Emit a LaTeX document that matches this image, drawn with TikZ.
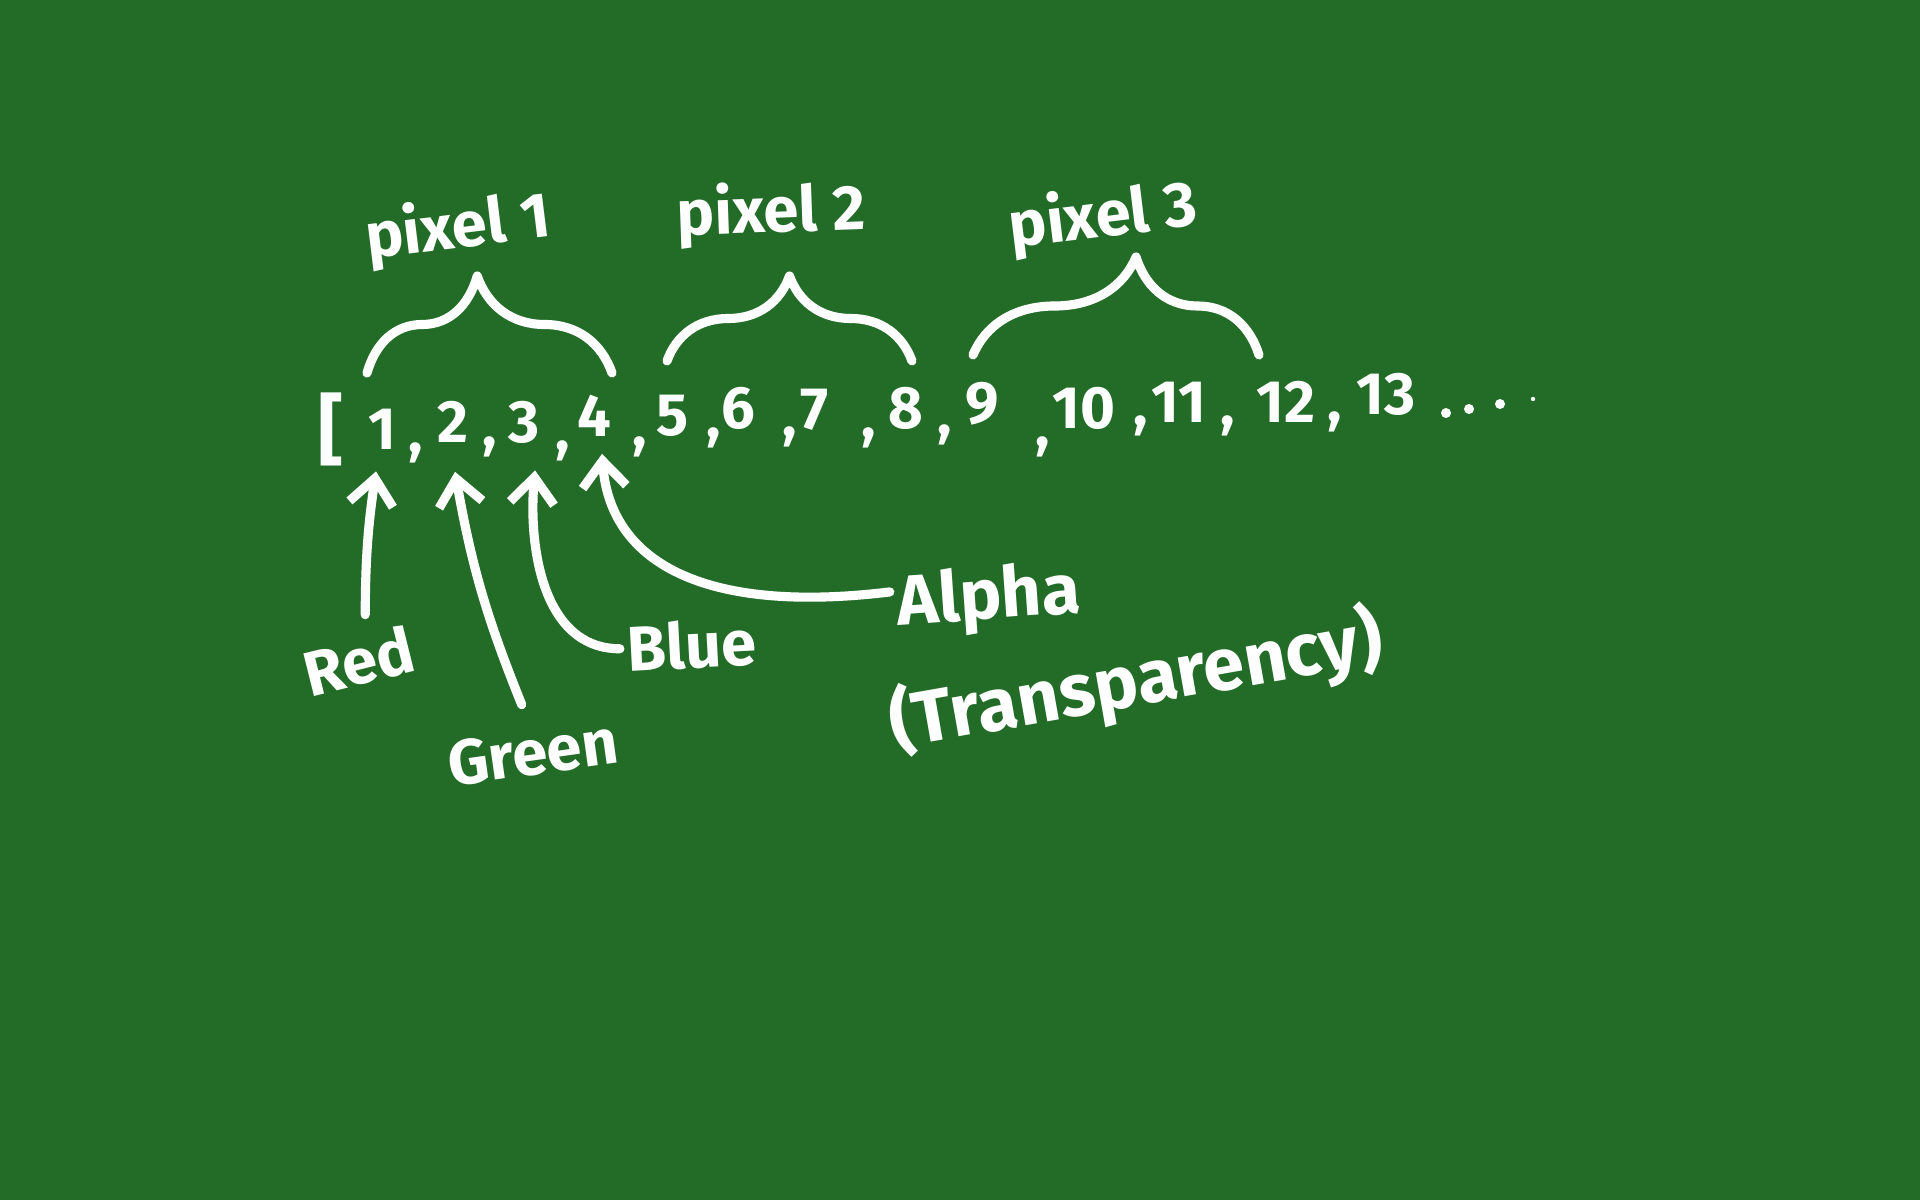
\documentclass[tikz,border=0pt]{standalone}
\usepackage{fontspec}
\setmainfont{Fira Sans}
\usetikzlibrary{arrows.meta,decorations.pathreplacing,calc}
\definecolor{board}{HTML}{226C28}
\definecolor{chalkwhite}{HTML}{FFFFFF}

\begin{document}
\begin{tikzpicture}[
    chalkline/.style={draw=chalkwhite, line width=2.6pt, line cap=round, line join=round},
    numtext/.style={text=chalkwhite, font=\fontsize{17}{20}\selectfont\bfseries, inner sep=1pt},
    tag/.style={text=chalkwhite, font=\fontsize{18}{22}\selectfont\bfseries, inner sep=2pt},
    bigtag/.style={tag, font=\fontsize{20}{24}\selectfont\bfseries},
    arrow/.style={chalkline, -{Straight Barb[length=2.6mm, width=4.4mm]}},
    curly/.style 2 args={chalkline, decorate, decoration={brace, amplitude=#1, aspect=#2}}
  ]
    \fill[board] (0,0) rectangle (19.2,12);
    % the flat list of values
    \node[numtext, font=\fontsize{22}{24}\selectfont\bfseries] (open) at (3.31,7.71) {[};
    \foreach \i/\x/\y in {1/3.82/7.71, 2/4.53/7.78, 3/5.24/7.78, 4/5.94/7.84, 5/6.73/7.84,
        6/7.38/7.92, 7/8.14/7.90, 8/9.06/7.92, 9/9.82/7.96, 10/10.84/7.92, 11/11.79/7.98,
        12/12.86/7.98, 13/13.86/8.06}
      \node[numtext] (n\i) at (\x,\y) {\i};
    \foreach \i/\x/\y in {1/4.16/7.47, 2/4.90/7.53, 3/5.63/7.49, 4/6.40/7.53, 5/7.14/7.62,
        6/7.90/7.63, 7/8.69/7.62, 8/9.45/7.65, 9/10.43/7.53, 10/11.41/7.74, 11/12.28/7.74,
        12/13.35/7.78}
      \node[numtext] (c\i) at (\x,\y) {,};
    \foreach \x/\y/\r in {14.46/7.87/0.05, 14.69/7.91/0.05, 15.00/7.96/0.05, 15.33/8.01/0.022}
      \fill[chalkwhite] (\x,\y) circle (\r);
    % braces and pixel labels
    \draw[curly={9.7mm}{0.45}] (3.67,8.27) -- (6.12,8.27);
    \draw[curly={8.5mm}{0.5}] (6.67,8.39) -- (9.12,8.39);
    \draw[curly={9.8mm}{0.57}] (9.73,8.45) -- (12.59,8.45);
    \node[tag, rotate=7] (pix1) at (4.58,9.71) {pixel 1};
    \node[tag, rotate=2] (pix2) at (7.71,9.86) {pixel 2};
    \node[tag, rotate=7] (pix3) at (11.03,9.82) {pixel 3};
    % channel labels
    \node[tag, rotate=14] (red) at (3.59,5.39) {Red};
    \node[tag, rotate=8] (green) at (5.33,4.47) {Green};
    \node[tag, rotate=3] (blue) at (6.92,5.55) {Blue};
    \node[bigtag, rotate=4] (alpha) at (9.89,6.00) {Alpha};
    \node[bigtag, font=\fontsize{21}{24}\selectfont\bfseries, rotate=10] (transp) at (11.36,5.18) {(Transparency)};
    \draw[arrow] ($(red.north)+(0.14,0.15)$) to[bend left=4] ($(n1.south)+(-0.06,-0.18)$);
    \draw[arrow] ($(green.north)+(-0.07,0.18)$) to[bend left=6] ($(n2.south)+(0.02,-0.25)$);
    \draw[arrow] (blue.west) to[out=180, in=-95] ($(n3.south)+(0.11,-0.23)$);
    \draw[arrow] ($(alpha.west)+(0,0.15)$) .. controls (7.0,5.85) and (6.1,6.4) .. ($(n4.south)+(0.08,-0.13)$);
  \end{tikzpicture}
\end{document}
